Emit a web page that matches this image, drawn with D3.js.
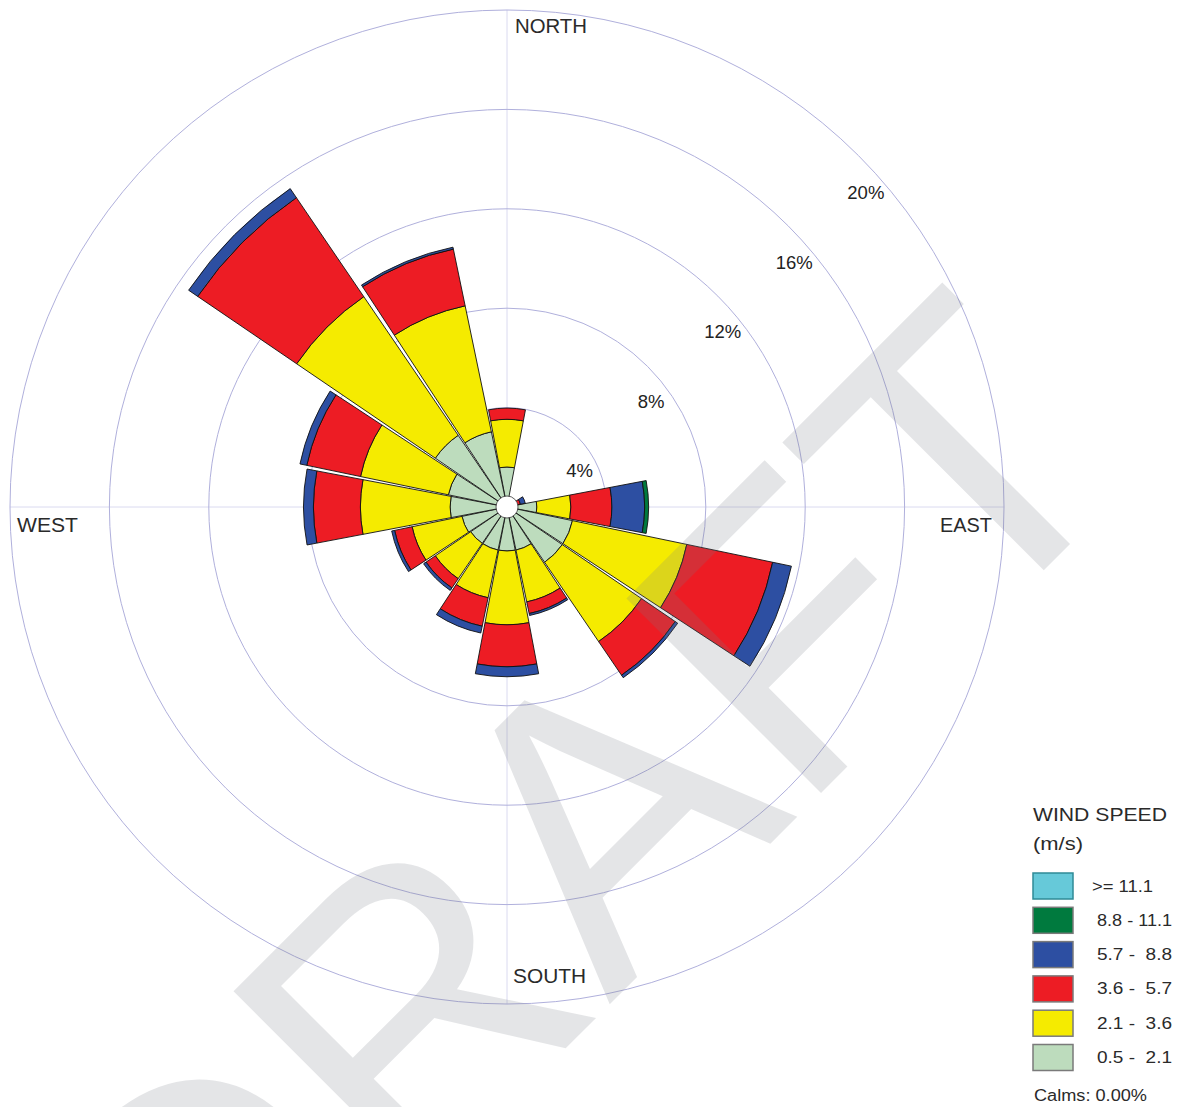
<!DOCTYPE html>
<html>
<head>
<meta charset="utf-8">
<script src="https://cdn.jsdelivr.net/npm/d3@7"></script>
<style>
	body { margin: 0; background: #fff; }
	text { font-family: "Liberation Sans", Arial, sans-serif; }
</style>
</head>
<body>
<svg id="chart" width="1178" height="1107"></svg>
<script>
const directions = ['N', 'NNE', 'NE', 'ENE', 'E', 'ESE', 'SE', 'SSE', 'S', 'SSW', 'SW', 'WSW', 'W', 'WNW', 'NW', 'NNW'];

// frequency (%) per speed class, one value per direction
const speed05_21 = [1.61, 0.20, 0.20, 0.15, 1.20, 2.69, 2.69, 1.77, 1.77, 1.77, 1.77, 1.85, 2.29, 2.41, 3.49, 3.09];
const speed21_36 = [1.92, 0.10, 0.10, 0.15, 1.37, 4.70, 3.86, 2.13, 2.97, 1.96, 1.72, 2.05, 3.61, 3.61, 6.75, 5.18];
const speed36_57 = [0.45, 0, 0, 0.25, 1.65, 3.53, 1.64, 0.48, 1.69, 1.17, 0.45, 0.72, 1.89, 2.21, 4.82, 2.33];
const speed57_88 = [0, 0, 0, 0.20, 1.32, 0.77, 0.12, 0.08, 0.40, 0.28, 0.12, 0.12, 0.40, 0.28, 0.44, 0.08];
const speed88_111 = [0, 0, 0, 0, 0.16, 0, 0, 0, 0, 0, 0, 0, 0, 0, 0, 0];
const speed111 = [0, 0, 0, 0, 0, 0, 0, 0, 0, 0, 0, 0, 0, 0, 0, 0];

const classKeys = ['s1', 's2', 's3', 's4', 's5', 's6'];
const classLabels = ['0.5 -  2.1', '2.1 -  3.6', '3.6 -  5.7', '5.7 -  8.8', '8.8 - 11.1', '>= 11.1'];
const classColors = ['#bddcbd', '#f5eb00', '#ed1c24', '#2d4fa2', '#007a3e', '#66c9d9'];
const ringTicks = [4, 8, 12, 16, 20];
const calms = 0.00;

const draw = (svg, d3 = window.d3) => {
	const cx = 507, cy = 507;
	const r = d3.scaleLinear().domain([0, 20]).range([0, 497]);
	const step = 2 * Math.PI / directions.length;
	const half = step / 2 - 0.5 * Math.PI / 180;

	const rows = directions.map((dir, i) => ({
		dir, angle: i * step,
		s1: speed05_21[i], s2: speed21_36[i], s3: speed36_57[i],
		s4: speed57_88[i], s5: speed88_111[i], s6: speed111[i]
	}));
	const series = d3.stack().keys(classKeys)(rows);
	const color = d3.scaleOrdinal().domain(classKeys).range(classColors);

	svg.append('rect').attr('width', 1178).attr('height', 1107).attr('fill', '#fff');

	const g = svg.append('g').attr('transform', `translate(${cx},${cy})`);

	// grid
	g.append('line').attr('x1', 0).attr('x2', 0).attr('y1', -r(20)).attr('y2', r(20))
		.attr('stroke', '#dadaf0').attr('stroke-width', 1);
	g.append('line').attr('y1', 0).attr('y2', 0).attr('x1', -r(20)).attr('x2', r(20))
		.attr('stroke', '#dadaf0').attr('stroke-width', 1);
	g.selectAll('.ring')
		.data(ringTicks)
		.enter().append('circle')
		.attr('class', 'ring')
		.attr('r', d => r(d))
		.attr('fill', 'none')
		.attr('stroke', '#b0b0dc')
		.attr('stroke-width', 1);

	// petals
	const arc = d3.arc();
	const segs = [];
	series.forEach(s => s.forEach(p => {
		if (p[1] - p[0] > 0) segs.push({ key: s.key, y0: p[0], y1: p[1], angle: p.data.angle });
	}));
	g.selectAll('.seg')
		.data(segs)
		.enter().append('path')
		.attr('class', 'seg')
		.attr('d', d => arc({
			innerRadius: r(d.y0),
			outerRadius: r(d.y1),
			startAngle: d.angle - half,
			endAngle: d.angle + half
		}))
		.attr('fill', d => color(d.key))
		.attr('stroke', '#111')
		.attr('stroke-width', 0.9)
		.attr('stroke-linejoin', 'miter');

	g.append('circle').attr('r', 11).attr('fill', '#fff').attr('stroke', '#333').attr('stroke-width', 0.8);

	// ring labels
	g.selectAll('.ringlabel')
		.data(ringTicks)
		.enter().append('text')
		.attr('class', 'ringlabel')
		.attr('x', d => r(d) * 0.72 + 1)
		.attr('y', d => -r(d) * 0.70 + 40)
		.attr('text-anchor', 'middle')
		.attr('font-size', 18.5)
		.attr('fill', '#222')
		.text(d => `${d}%`);

	// compass labels
	const compass = [
		{ t: 'NORTH', x: 8, y: -474, w: 72 },
		{ t: 'SOUTH', x: 6, y: 476, w: 73 },
		{ t: 'WEST', x: -490, y: 25, w: 61 },
		{ t: 'EAST', x: 433, y: 25, w: 52 }
	];
	g.selectAll('.compass')
		.data(compass)
		.enter().append('text')
		.attr('class', 'compass')
		.attr('x', d => d.x)
		.attr('y', d => d.y)
		.attr('font-size', 19.5)
		.attr('fill', '#2a2a2a')
		.attr('textLength', d => d.w)
		.attr('lengthAdjust', 'spacingAndGlyphs')
		.text(d => d.t);

	// legend
	const lg = svg.append('g').attr('transform', 'translate(1033,0)');
	lg.append('text').attr('x', 0).attr('y', 821).attr('font-size', 17.5).attr('fill', '#2a2a2a')
		.attr('textLength', 134).attr('lengthAdjust', 'spacingAndGlyphs').text('WIND SPEED');
	lg.append('text').attr('x', 0).attr('y', 850).attr('font-size', 17.5).attr('fill', '#2a2a2a')
		.attr('textLength', 50).attr('lengthAdjust', 'spacingAndGlyphs').text('(m/s)');

	const legendItems = classKeys.map((k, i) => ({ key: k, label: classLabels[i] })).reverse();
	const item = lg.selectAll('.item')
		.data(legendItems)
		.enter().append('g')
		.attr('class', 'item')
		.attr('transform', (d, i) => `translate(0,${873 + i * 34.3})`);
	item.append('rect')
		.attr('width', 40).attr('height', 26)
		.attr('fill', d => color(d.key))
		.attr('stroke', d => d.key === 's6' ? '#2f8a96' : '#7a7a7a')
		.attr('stroke-width', 1.5);
	item.append('text')
		.attr('x', (d, i) => i === 0 ? 59 : 64)
		.attr('y', 18.5)
		.attr('font-size', 16)
		.attr('fill', '#2a2a2a')
		.style('white-space', 'pre')
		.attr('textLength', (d, i) => i === 0 ? 61 : 75)
		.attr('lengthAdjust', 'spacingAndGlyphs')
		.text(d => d.label);

	lg.append('text').attr('x', 1).attr('y', 1101).attr('font-size', 16).attr('fill', '#2a2a2a')
		.attr('textLength', 113).attr('lengthAdjust', 'spacingAndGlyphs')
		.text(`Calms: ${calms.toFixed(2)}%`);

	// watermark
	svg.append('text')
		.attr('transform', 'translate(672,942) rotate(-45)')
		.attr('text-anchor', 'middle')
		.attr('font-size', 400)
		.attr('fill', '#787d87')
		.attr('fill-opacity', 0.2)
		.text('DRAFT');
};

draw(d3.select('#chart'));
</script>
</body>
</html>
